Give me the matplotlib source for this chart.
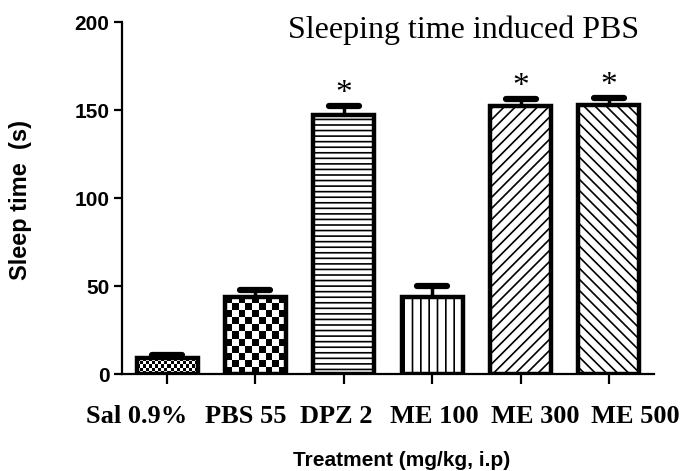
import numpy as np
import matplotlib
matplotlib.use("Agg")
import matplotlib.pyplot as plt
from matplotlib.transforms import ScaledTranslation

# data
treatments = ["Sal 0.9%", "PBS 55", "DPZ 2", "ME 100", "ME 300", "ME 500"]
sleep_mean = [9, 44, 147, 44, 152, 153]
sleep_sem = [2, 4, 5, 6, 4, 4]
significant = [False, False, True, False, True, True]

hatches = [None, None, "---", "||", "///", "\\\\\\"]
checker_px = [3, 7, None, None, None, None]   # checkerboard cell size in pixels
label_shift_px = [-30, -10, -8, 2, 15, 26]    # tick labels sit off-centre in the original

plt.rcParams["hatch.linewidth"] = 1.2
plt.rcParams["hatch.color"] = "black"

fig = plt.figure(figsize=(6.84, 4.71), dpi=100, facecolor="white")
ax = fig.add_axes([122 / 684, 1 - 374 / 471, (654 - 122) / 684, (374 - 22) / 471])

x = np.arange(len(treatments))
bar_w = 0.69
bars = ax.bar(x, sleep_mean, width=bar_w, color="none", edgecolor="black",
              linewidth=3.2, zorder=3)
for b, h in zip(bars, hatches):
    if h:
        b.set_hatch(h)

ax.set_xlim(-0.51, len(treatments) - 0.49)
ax.set_ylim(0, 200)

# checkerboard fills (no built-in hatch for this), clipped to the bar
fig.canvas.draw()
for b, cell in zip(bars, checker_px):
    if cell is None:
        continue
    x0, y0 = b.get_x(), 0
    x1, y1 = x0 + b.get_width(), b.get_height()
    p0 = ax.transData.transform((x0, y0))
    p1 = ax.transData.transform((x1, y1))
    nx = max(1, int(round((p1[0] - p0[0]) / cell)))
    ny = max(1, int(round((p1[1] - p0[1]) / cell)))
    board = (np.add.outer(np.arange(ny), np.arange(nx)) % 2).astype(float)
    im = ax.imshow(board, cmap="gray", extent=(x0, x1, y0, y1), aspect="auto",
                   interpolation="nearest", zorder=2.5, origin="lower")
    im.set_clip_path(b)

ax.set_xlim(-0.51, len(treatments) - 0.49)
ax.set_ylim(0, 200)

# upper error bars with rounded caps
tops = np.array(sleep_mean) + np.array(sleep_sem)
ax.vlines(x, sleep_mean, tops, color="black", linewidth=2.5, zorder=2)
ax.hlines(tops, x - 0.17, x + 0.17, color="black", linewidth=4.5, zorder=4,
          capstyle="round", clip_on=False)

for xi, t, sig in zip(x, tops, significant):
    if sig:
        ax.text(xi, t + 7, "*", ha="center", va="center", fontsize=24,
                family="Liberation Serif", clip_on=False)

for side in ["top", "right"]:
    ax.spines[side].set_visible(False)
for side in ["left", "bottom"]:
    ax.spines[side].set_linewidth(1.6)

ax.set_yticks([0, 50, 100, 150, 200])
ax.tick_params(axis="y", direction="out", length=6, width=1.6, pad=3,
               labelsize=15)
for lab in ax.get_yticklabels():
    lab.set_fontweight("bold")
    lab.set_family("Liberation Sans")

ax.set_xticks(x)
ax.set_xticklabels(treatments, fontsize=19, fontweight="bold",
                   family="Liberation Serif")
ax.tick_params(axis="x", direction="out", length=7, width=1.6, pad=15)
for lab, dx in zip(ax.get_xticklabels(), label_shift_px):
    lab.set_transform(lab.get_transform() + ScaledTranslation(dx / 100, 0, fig.dpi_scale_trans))

fig.text(464 / 684, 1 - 30 / 471, "Sleeping time induced PBS", ha="center",
         va="center", fontsize=23, family="Liberation Serif")
fig.text(21 / 684, 1 - 200 / 471, "Sleep time  (s)", rotation=90, ha="center",
         va="center", fontsize=17, fontweight="bold", family="Liberation Sans")
fig.text(402 / 684, 1 - 460 / 471, "Treatment (mg/kg, i.p)", ha="center",
         va="center", fontsize=15, fontweight="bold", family="Liberation Sans")

fig.savefig("out.png", dpi=100, facecolor="white")
